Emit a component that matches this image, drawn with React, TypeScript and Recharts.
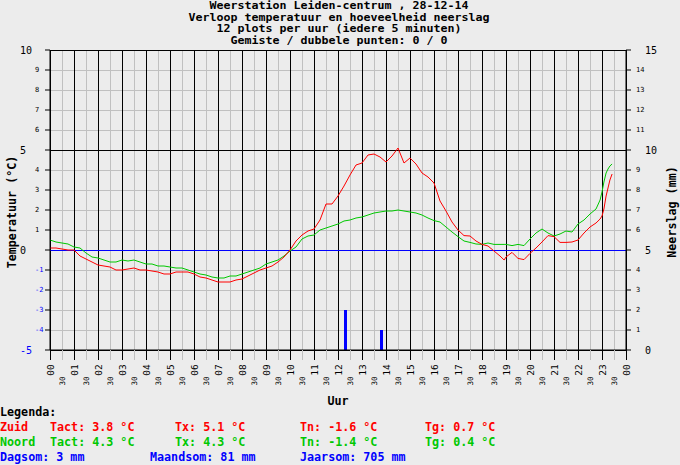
import React from 'react';
import { ComposedChart, Line, Bar, XAxis, YAxis, CartesianGrid, ReferenceLine } from 'recharts';

// time of day in hours (5-min data thinned to ~15 min)
const hours = [
  0, 0.25, 0.5, 0.75,
  1, 1.25, 1.5, 1.75,
  2, 2.25, 2.5, 2.75,
  3, 3.25, 3.5, 3.75,
  4, 4.25, 4.5, 4.75,
  5, 5.25, 5.5, 5.75,
  6, 6.25, 6.5, 6.75,
  7, 7.25, 7.5, 7.75,
  8, 8.25, 8.5, 8.75,
  9, 9.25, 9.5, 9.75,
  10, 10.25, 10.5, 10.75,
  11, 11.25, 11.5, 11.75,
  12, 12.25, 12.5, 12.75,
  13, 13.25, 13.5, 13.75,
  14, 14.25, 14.5, 14.75,
  15, 15.25, 15.5, 15.75,
  16, 16.25, 16.5, 16.75,
  17, 17.25, 17.5, 17.75,
  18, 18.25, 18.5, 18.75, 18.92,
  19, 19.25, 19.5, 19.75,
  20, 20.25, 20.5, 20.75,
  21, 21.25, 21.5, 21.75,
  22, 22.25, 22.5, 22.75, 22.92,
  23, 23.08, 23.17, 23.25, 23.33, 23.42,
];

// Zuid temperature (°C)
const zuid = [
  0.1, 0.1, 0.05, 0.0,
  0.0, -0.3, -0.45, -0.6,
  -0.75, -0.8, -0.85, -1.0,
  -1.0, -0.95, -0.9, -1.0,
  -1.0, -1.05, -1.1, -1.2,
  -1.2, -1.1, -1.1, -1.1,
  -1.2, -1.35, -1.4, -1.5,
  -1.6, -1.6, -1.6, -1.5,
  -1.45, -1.3, -1.15, -1.0,
  -0.9, -0.8, -0.6, -0.35,
  0.0, 0.45, 0.75, 0.95,
  1.05, 1.5, 2.3, 2.3,
  2.7, 3.2, 3.75, 4.25,
  4.35, 4.75, 4.8, 4.65,
  4.4, 4.7, 5.1, 4.35,
  4.6, 4.3, 3.85, 3.65,
  3.35, 2.45, 1.95, 1.4,
  1.0, 0.72, 0.7, 0.45,
  0.28, 0.2, -0.05, -0.3, -0.5,
  -0.35, -0.12, -0.42, -0.48,
  -0.17, 0.1, 0.4, 0.72,
  0.67, 0.38, 0.38, 0.4,
  0.5, 0.85, 1.15, 1.35, 1.55,
  1.7, 2.05, 2.7, 3.1, 3.5, 3.8,
];

// Noord temperature (°C)
const noord = [
  0.5, 0.4, 0.35, 0.3,
  0.15, 0.1, -0.15, -0.35,
  -0.4, -0.5, -0.6, -0.6,
  -0.5, -0.55, -0.5, -0.6,
  -0.7, -0.7, -0.8, -0.8,
  -0.85, -0.9, -0.9, -1.0,
  -1.1, -1.2, -1.25, -1.35,
  -1.4, -1.4, -1.3, -1.3,
  -1.2, -1.1, -1.0, -0.9,
  -0.7, -0.6, -0.5, -0.3,
  -0.05, 0.15, 0.55, 0.7,
  0.75, 1.0, 1.1, 1.2,
  1.3, 1.45, 1.5, 1.6,
  1.65, 1.75, 1.85, 1.9,
  1.95, 1.95, 2.0, 1.95,
  1.9, 1.85, 1.75, 1.6,
  1.47, 1.4, 1.15, 0.9,
  0.67, 0.45, 0.38, 0.3,
  0.28, 0.35, 0.28, 0.28, 0.28,
  0.28, 0.22, 0.28, 0.22,
  0.55, 0.85, 1.05, 0.85,
  0.7, 0.8, 0.95, 0.9,
  1.3, 1.5, 1.8, 2.05, 2.5,
  2.9, 3.4, 3.85, 4.05, 4.2, 4.3,
];

// neerslag (mm)
const rainHours = [12.3, 13.8];
const rainMm = [2, 1];

const hourTicks = [0, 1, 2, 3, 4, 5, 6, 7, 8, 9, 10, 11, 12, 13, 14, 15, 16, 17, 18, 19, 20, 21, 22, 23, 24];
const hourLabels = ['00', '01', '02', '03', '04', '05', '06', '07', '08', '09', '10', '11',
  '12', '13', '14', '15', '16', '17', '18', '19', '20', '21', '22', '23', '00'];
const halfTicks = hourTicks.slice(0, -1).map((h) => h + 0.5);
const halfLabel = '30';

const tempTicks = [-5, -4, -3, -2, -1, 0, 1, 2, 3, 4, 5, 6, 7, 8, 9, 10];
const tempMajor = [-5, 0, 5, 10];
const rainTicks = [0, 1, 2, 3, 4, 5, 6, 7, 8, 9, 10, 11, 12, 13, 14, 15];
const rainMajor = [0, 5, 10, 15];

const titleLines = [
  'Weerstation Leiden-centrum , 28-12-14',
  'Verloop temperatuur en hoeveelheid neerslag',
  '12 plots per uur (iedere 5 minuten)',
  'Gemiste / dubbele punten: 0 / 0',
];

const zuidStats = ['Tact: 3.8 °C', 'Tx: 5.1 °C', 'Tn: -1.6 °C', 'Tg: 0.7 °C'];
const noordStats = ['Tact: 4.3 °C', 'Tx: 4.3 °C', 'Tn: -1.4 °C', 'Tg: 0.4 °C'];
const rainStats = ['Dagsom: 3 mm', 'Maandsom: 81 mm', 'Jaarsom: 705 mm'];

const RED = '#ff0000';
const GREEN = '#00c800';
const BLUE = '#0000ff';
const GRID = '#c0c0c0';
const MONO = '"DejaVu Sans Mono", "Liberation Mono", monospace';

const data = hours
  .map((t, i) => ({ t, zuid: zuid[i], noord: noord[i] } as any))
  .concat(rainHours.map((t, i) => ({ t, rain: rainMm[i] })))
  .sort((a, b) => a.t - b.t);

const HourTick = (props: any) => {
  const { x, y, payload } = props;
  const idx = hourTicks.indexOf(payload.value);
  const isHour = idx >= 0;
  return (
    <g>
      <line x1={x} y1={y} x2={x} y2={y + 10} stroke={isHour ? '#000' : GRID} shapeRendering="crispEdges" />
      <text
        transform={`translate(${x},${isHour ? y + 20 : y + 31}) rotate(-90)`}
        textAnchor="middle"
        dominantBaseline="central"
        fontFamily={MONO}
        fontSize={isHour ? 9.5 : 7.5}
        fill="#000"
      >
        {isHour ? hourLabels[idx] : halfLabel}
      </text>
    </g>
  );
};

const TempTick = (props: any) => {
  const { x, y, payload } = props;
  const v = payload.value;
  const major = tempMajor.includes(v);
  return (
    <text x={major ? x - 25 : x - 10} y={y} textAnchor="start" dominantBaseline="central"
      fontFamily={MONO} fontSize={major ? 10 : 7} fill={v < 0 ? BLUE : '#000'}>
      {v}
    </text>
  );
};

const RainTick = (props: any) => {
  const { x, y, payload } = props;
  const v = payload.value;
  const major = rainMajor.includes(v);
  return (
    <text x={major ? x + 14 : x + 5} y={y} textAnchor="start" dominantBaseline="central"
      fontFamily={MONO} fontSize={major ? 10 : 7} fill="#000">
      {v}
    </text>
  );
};

// rain bars are 3px wide, centred on their time
const RainBar = (props: any) => {
  const { x, y, width, height } = props;
  if (!height) return null;
  return <rect x={x + width / 2 - 1.5} y={y} width={3} height={height} fill={BLUE} shapeRendering="crispEdges" />;
};

const txt = { fontFamily: MONO, fontSize: 11.7, fontWeight: 'bold' as const };

export default function App() {
  const allTicks = [...hourTicks, ...halfTicks].sort((a, b) => a - b);
  return (
    <div style={{ position: 'fixed', left: 0, top: 0, width: 680, height: 465, background: '#ececec' }}>
      <ComposedChart width={680} height={465} data={data} margin={{ top: 50, right: 0, bottom: 0, left: 0 }}>
        <CartesianGrid yAxisId="temp" stroke={GRID} shapeRendering="crispEdges" />
        <XAxis
          dataKey="t"
          type="number"
          domain={[0, 24]}
          ticks={allTicks}
          interval={0}
          height={115}
          tickSize={0}
          tickMargin={0}
          tick={<HourTick />}
          axisLine={{ stroke: '#000' }}
        />
        <YAxis
          yAxisId="temp"
          domain={[-5, 10]}
          ticks={tempTicks}
          interval={0}
          width={50}
          tickSize={5}
          tickMargin={0}
          tickLine={{ stroke: '#000' }}
          axisLine={{ stroke: '#000' }}
          tick={<TempTick />}
        />
        <YAxis
          yAxisId="rain"
          orientation="right"
          domain={[0, 15]}
          ticks={rainTicks}
          interval={0}
          width={54}
          tickSize={5}
          tickMargin={0}
          tickLine={{ stroke: '#000' }}
          axisLine={{ stroke: '#000' }}
          tick={<RainTick />}
        />
        {hourTicks.map((h) => (
          <ReferenceLine key={'h' + h} yAxisId="temp" x={h} stroke="#000" shapeRendering="crispEdges" />
        ))}
        {[10, 5, -5].map((v) => (
          <ReferenceLine key={'t' + v} yAxisId="temp" y={v} stroke="#000" shapeRendering="crispEdges" />
        ))}
        <ReferenceLine yAxisId="temp" y={0} stroke={BLUE} shapeRendering="crispEdges" />
        <Bar yAxisId="rain" dataKey="rain" fill={BLUE} shape={<RainBar />} isAnimationActive={false} />
        <Line yAxisId="temp" type="linear" dataKey="noord" stroke={GREEN} strokeWidth={1} dot={false}
          connectNulls isAnimationActive={false} />
        <Line yAxisId="temp" type="linear" dataKey="zuid" stroke={RED} strokeWidth={1} dot={false}
          connectNulls isAnimationActive={false} />
      </ComposedChart>
      <svg width={680} height={465} style={{ position: 'absolute', left: 0, top: 0, pointerEvents: 'none' }}>
        {titleLines.map((line, i) => (
          <text key={i} x={339} y={9.2 + i * 11.5} textAnchor="middle" fontFamily={MONO} fontSize={9.8}
            fontWeight="bold" textLength={line.length * 7} lengthAdjust="spacingAndGlyphs">
            {line}
          </text>
        ))}
        <text transform="translate(12,212) rotate(-90)" textAnchor="middle" dominantBaseline="central" {...txt}>
          Temperatuur (°C)
        </text>
        <text transform="translate(672,212) rotate(-90)" textAnchor="middle" dominantBaseline="central" {...txt}>
          Neerslag (mm)
        </text>
        <text x={338} y={401} textAnchor="middle" dominantBaseline="central" {...txt}>Uur</text>
        <text x={0} y={412} dominantBaseline="central" {...txt}>Legenda:</text>
        <text x={0} y={427} dominantBaseline="central" fill={RED} {...txt}>Zuid</text>
        {zuidStats.map((s, i) => (
          <text key={'z' + i} x={50 + i * 125} y={427} dominantBaseline="central" fill={RED} {...txt}>{s}</text>
        ))}
        <text x={0} y={442} dominantBaseline="central" fill={GREEN} {...txt}>Noord</text>
        {noordStats.map((s, i) => (
          <text key={'n' + i} x={50 + i * 125} y={442} dominantBaseline="central" fill={GREEN} {...txt}>{s}</text>
        ))}
        {rainStats.map((s, i) => (
          <text key={'r' + i} x={i * 150} y={457} dominantBaseline="central" fill={BLUE} {...txt}>{s}</text>
        ))}
      </svg>
    </div>
  );
}
